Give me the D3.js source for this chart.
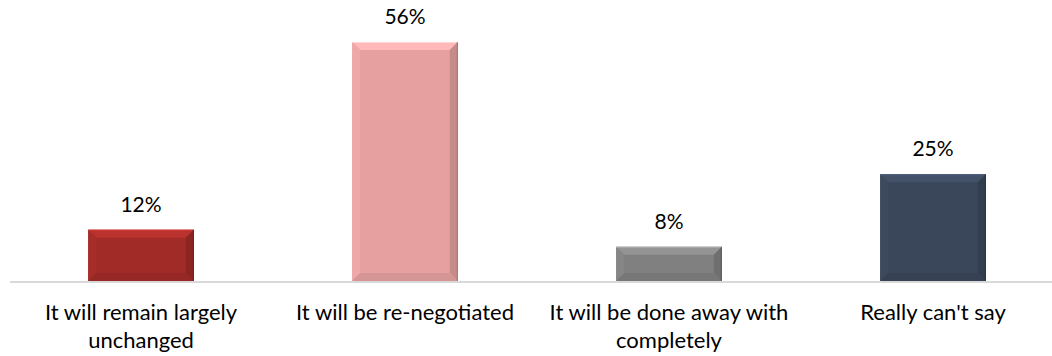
<!DOCTYPE html>
<html><head><meta charset="utf-8">
<script src="https://cdn.jsdelivr.net/npm/d3@7"></script>
<style>body{margin:0;background:#fff}svg{display:block}text{font-family:Lato,"Open Sans",sans-serif;fill:#000}</style>
</head><body>
<svg id="c" width="1052" height="356"></svg>
<script>
const categories = ["It will remain largely unchanged","It will be re-negotiated","It will be done away with completely","Really can't say"];
const categoryLines = [["It will remain largely","unchanged"],["It will be re-negotiated"],["It will be done away with","completely"],["Really can't say"]];
const values = [12,56,8,25];
const valueLabels = ["12%","56%","8%","25%"];
const colors = ["#a02b27","#e6a0a0","#808080","#3a475a"];

const svg = d3.select("#c");
const baseY = 281;
const x = d3.scaleBand().domain(categories).range([9,1065]).paddingInner(0.6).paddingOuter(0.3);
const y = d3.scaleLinear().domain([0,56]).range([baseY,42]);

svg.append("line").attr("x1",10).attr("x2",1052).attr("y1",baseY+1).attr("y2",baseY+1)
  .attr("stroke","#d9d9d9").attr("stroke-width",2);

const g = svg.selectAll("g.bar").data(values).join("g").attr("class","bar");
const b = 8;
g.each(function(v,i){
  const el = d3.select(this);
  const x0 = x(categories[i]), w = x.bandwidth(), y0 = y(v), h = baseY - y0;
  const c = d3.color(colors[i]);
  el.append("rect").attr("x",x0).attr("y",y0).attr("width",w).attr("height",h).attr("fill",c);
  const x1 = x0+w, y1 = baseY;
  const poly = (pts,fill)=>el.append("polygon").attr("points",pts.map(p=>p.join(",")).join(" ")).attr("fill",fill);
  poly([[x0,y0],[x1,y0],[x1-b,y0+b],[x0+b,y0+b]], c.brighter(0.4));
  poly([[x0,y0],[x0+b,y0+b],[x0+b,y1-b],[x0,y1]], c.brighter(0.12));
  poly([[x1,y0],[x1,y1],[x1-b,y1-b],[x1-b,y0+b]], c.darker(0.4));
  poly([[x0,y1],[x0+b,y1-b],[x1-b,y1-b],[x1,y1]], c.darker(0.2));
  el.append("line").attr("x1",x0).attr("x2",x1).attr("y1",y0+0.5).attr("y2",y0+0.5).attr("stroke",c.brighter(0.8)).attr("stroke-width",1);
  el.append("line").attr("x1",x1-0.5).attr("x2",x1-0.5).attr("y1",y0).attr("y2",y1).attr("stroke",c.darker(0.9)).attr("stroke-width",1);
});

svg.selectAll("text.val").data(values).join("text").attr("class","val")
  .attr("x",(d,i)=>x(categories[i])+x.bandwidth()/2).attr("y",d=>y(d)-18)
  .attr("text-anchor","middle").attr("font-size",21).text((d,i)=>valueLabels[i]);

const lab = svg.selectAll("text.cat").data(categoryLines).join("text").attr("class","cat")
  .attr("text-anchor","middle").attr("font-size",22);
lab.each(function(lines,i){
  const cx = x(categories[i])+x.bandwidth()/2;
  d3.select(this).selectAll("tspan").data(lines).join("tspan")
    .attr("x",cx).attr("y",(d,j)=>320+j*28).text(d=>d);
});
</script>
</body></html>
